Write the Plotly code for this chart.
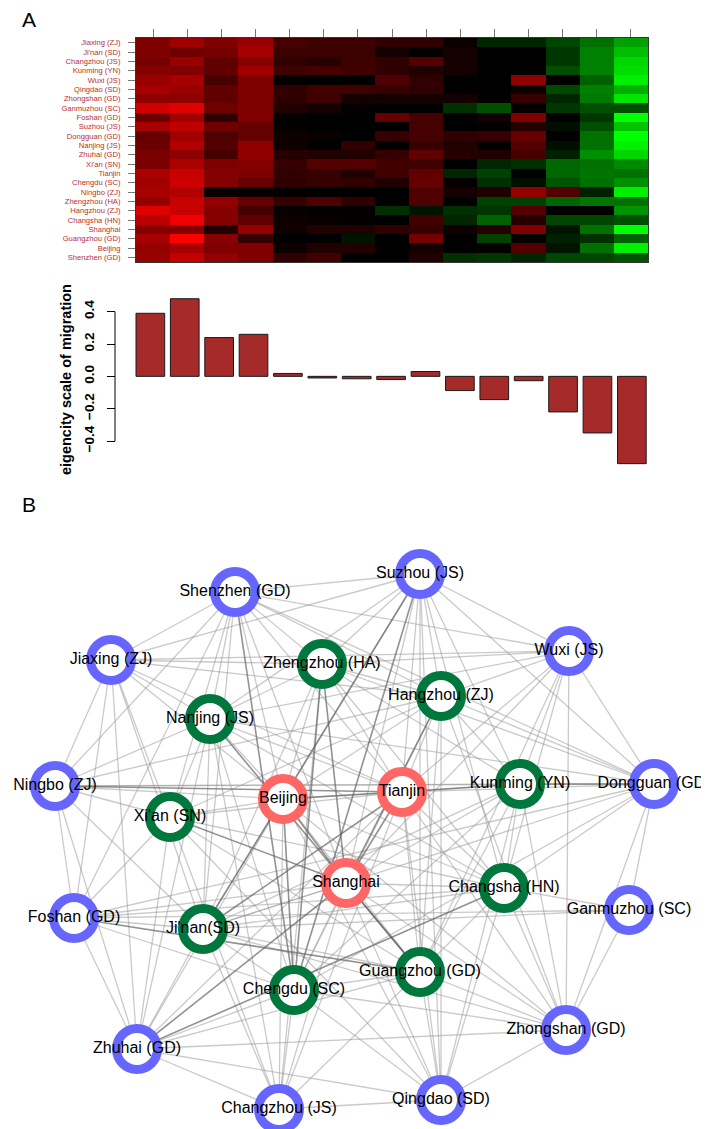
import plotly.graph_objects as go

# ---------------- Panel A data ----------------
city_rows = ["Jiaxing (ZJ)", "Ji'nan (SD)", "Changzhou (JS)", "Kunming (YN)", "Wuxi (JS)",
             "Qingdao (SD)", "Zhongshan (GD)", "Ganmuzhou (SC)", "Foshan (GD)", "Suzhou (JS)",
             "Dongguan (GD)", "Nanjing (JS)", "Zhuhai (GD)", "Xi'an (SN)", "Tianjin",
             "Chengdu (SC)", "Ningbo (ZJ)", "Zhengzhou (HA)", "Hangzhou (ZJ)", "Changsha (HN)",
             "Shanghai", "Guangzhou (GD)", "Beijing", "Shenzhen (GD)"]
components = list(range(1, 16))

heat_values = [
    [.50, .62, .50, .60, .27, .23, .23, .19, .19, .04, -.15, -.15, -.27, -.44, -.63],
    [.50, .44, .46, .65, .23, .23, .23, .08, .02, .08, 0, 0, -.21, -.50, -.75],
    [.46, .60, .38, .52, .19, .15, .23, .19, .33, .08, 0, 0, -.21, -.50, -.84],
    [.52, .50, .38, .63, .25, .27, .25, .19, .13, .08, 0, 0, -.31, -.50, -.87],
    [.60, .66, .28, .50, .02, 0, 0, .31, .19, 0, 0, .56, 0, -.38, -.94],
    [.65, .60, .38, .50, .19, .25, .25, .21, .19, 0, 0, .06, -.28, -.50, -.69],
    [.56, .56, .38, .50, .19, .25, .08, .08, .08, .08, .02, .21, -.15, -.48, -.90],
    [.82, .88, .44, .50, .13, .08, .02, 0, 0, -.19, -.31, .02, -.21, -.31, -.31],
    [.42, .63, .19, .50, .02, 0, 0, .40, .27, 0, .08, .50, 0, -.21, -1.0],
    [.66, .75, .44, .40, .02, 0, 0, 0, .27, 0, .02, .15, -.06, -.31, -.77],
    [.40, .63, .31, .40, .06, .03, 0, .21, .27, .19, .21, .40, 0, -.44, -1.0],
    [.42, .71, .33, .56, .06, 0, .19, 0, .21, .13, .02, .33, -.06, -.44, -.94],
    [.48, .56, .27, .56, .15, .13, .13, .21, .38, .15, .13, .27, -.13, -.56, -.84],
    [.48, .67, .50, .52, .21, .33, .33, .25, .25, 0, -.15, -.19, -.40, -.44, -.54],
    [.67, .78, .52, .50, .19, .21, .13, .25, .38, -.15, -.25, 0, -.40, -.46, -.44],
    [.63, .80, .52, .40, .19, .21, .19, .13, .40, .02, -.19, -.06, -.33, -.44, -.56],
    [.65, .69, .04, .04, .02, 0, 0, 0, .31, .08, .13, .58, .33, -.13, -.94],
    [.58, .78, .58, .40, .21, .31, .19, 0, .31, 0, -.25, -.25, -.40, -.46, -.44],
    [.88, .78, .52, .27, .03, .02, .02, -.19, -.08, -.19, -.21, .33, 0, 0, -.58],
    [.73, .94, .52, .38, .06, .03, .02, 0, .25, -.15, -.38, .15, -.27, -.27, -.31],
    [.52, .52, .13, .58, .06, .13, .13, .19, .21, .06, .15, .50, -.08, -.44, -1.0],
    [.65, 1.0, .52, .21, 0, 0, -.08, 0, .46, 0, -.25, 0, -.13, -.19, -.38],
    [.58, .65, .50, .50, .06, .13, .13, 0, .08, 0, .02, .33, -.08, -.44, -.94],
    [.60, .77, .58, .50, .19, .25, 0, 0, .13, -.19, -.21, -.15, -.27, -.27, -.33],
]

eigen_values = [0.39, 0.48, 0.24, 0.26, 0.018, -0.01, -0.015, -0.02, 0.03,
                -0.088, -0.144, -0.027, -0.22, -0.35, -0.54]
eigen_ticks = [-0.4, -0.2, 0.0, 0.2, 0.4]
eigen_ticktext = ["\u22120.4", "\u22120.2", "0.0", "0.2", "0.4"]

# ---------------- Panel B data ----------------
node_names = ["Suzhou (JS)", "Shenzhen (GD)", "Jiaxing (ZJ)", "Zhengzhou (HA)", "Wuxi (JS)",
              "Hangzhou (ZJ)", "Nanjing (JS)", "Ningbo (ZJ)", "Xi'an (SN)", "Beijing",
              "Tianjin", "Kunming (YN)", "Dongguan (GD)", "Shanghai", "Changsha (HN)",
              "Ganmuzhou (SC)", "Foshan (GD)", "Ji'nan(SD)", "Guangzhou (GD)", "Chengdu (SC)",
              "Zhuhai (GD)", "Zhongshan (GD)", "Changzhou (JS)", "Qingdao (SD)"]
node_codes = ["SZ", "SZN", "JX", "ZZ", "WX", "HZ", "NJ", "NB", "XA", "BJ", "TJ", "KM",
              "DG", "SH", "CS", "GMZ", "FS", "JN", "GZ", "CD", "ZH", "ZS", "CZ", "QD"]
node_group = ["peripheral", "peripheral", "peripheral", "middle", "peripheral", "middle",
              "middle", "peripheral", "middle", "core", "core", "middle", "peripheral",
              "core", "middle", "peripheral", "peripheral", "middle", "middle", "middle",
              "peripheral", "peripheral", "peripheral", "peripheral"]
layout_x = [412, 227, 103, 314, 561, 433, 202, 47, 162, 275, 394, 512, 646, 338, 496,
            621, 66, 195, 412, 286, 129, 558, 271, 433]
layout_y = [566, 584, 652, 656, 643, 688, 711, 778, 809, 791, 784, 776, 776, 875, 880,
            902, 910, 921, 964, 982, 1041, 1022, 1101, 1092]

adjacency = {
    "SZ": "SZN JX ZZ WX HZ NJ BJ TJ KM DG SH CS JN GZ CD QD",
    "SZN": "JX ZZ WX HZ NJ NB XA BJ TJ DG SH JN CD FS",
    "JX": "ZZ WX HZ NJ NB XA BJ TJ FS JN ZH",
    "ZZ": "WX HZ NJ BJ TJ KM DG SH CS JN CD CZ",
    "WX": "HZ TJ KM DG SH CS GZ ZS NJ",
    "HZ": "NB XA BJ TJ KM DG SH GZ CD ZS QD",
    "NJ": "NB XA BJ TJ DG CS JN GZ CD ZH CZ",
    "NB": "XA BJ TJ KM DG FS JN ZH",
    "XA": "BJ TJ SH CS FS GZ ZH CZ QD",
    "BJ": "TJ KM SH CS JN GZ CD ZH CZ QD ZS",
    "TJ": "KM DG SH CS JN GZ ZH CZ QD ZS",
    "KM": "DG SH CS GZ CD ZS QD JN",
    "DG": "CS GMZ ZS JN FS CD",
    "SH": "CS JN GZ CD FS ZH ZS CZ QD",
    "CS": "GMZ JN GZ ZS QD FS ZH",
    "GMZ": "FS JN ZS",
    "FS": "JN ZH GZ CD",
    "JN": "GZ CD ZH ZS CZ",
    "GZ": "CD ZH ZS CZ QD",
    "CD": "ZH ZS CZ QD",
    "ZH": "ZS CZ QD",
    "ZS": "QD",
    "CZ": "QD",
}
strong_edges = ["SZ-JN", "TJ-KM", "KM-DG", "NB-TJ", "BJ-TJ", "ZZ-SH", "BJ-SH", "TJ-SH",
                "SH-GZ", "SZN-CD", "ZZ-CD", "XA-SH", "NJ-GZ", "HZ-SH", "SH-ZH", "CS-ZH",
                "TJ-JN", "SZ-CD", "BJ-CD", "FS-GZ"]

# ---------------- figure ----------------
W, H = 709, 1129
fig = go.Figure()

fig.add_trace(go.Heatmap(
    z=heat_values, x=components, y=city_rows, xaxis="x", yaxis="y",
    colorscale=[[0, "#00FF00"], [0.5, "#000000"], [1, "#FF0000"]],
    zmin=-1, zmax=1, showscale=False, xgap=0, ygap=0))

fig.add_trace(go.Bar(
    x=components, y=eigen_values, xaxis="x2", yaxis="y2", width=0.834,
    marker=dict(color="#A52A2A", line=dict(color="#1a1a1a", width=1))))

idx = {c: i for i, c in enumerate(node_codes)}
strong_set = set()
for e in strong_edges:
    a, b = e.split("-")
    strong_set.add(frozenset((a, b)))
ex_n, ey_n, ex_s, ey_s = [], [], [], []
for a, nbrs in adjacency.items():
    for b in nbrs.split():
        i, j = idx[a], idx[b]
        if frozenset((a, b)) in strong_set:
            ex_s += [layout_x[i], layout_x[j], None]
            ey_s += [layout_y[i], layout_y[j], None]
        else:
            ex_n += [layout_x[i], layout_x[j], None]
            ey_n += [layout_y[i], layout_y[j], None]

fig.add_trace(go.Scatter(x=ex_n, y=ey_n, mode="lines", xaxis="x3", yaxis="y3",
                         line=dict(color="rgba(150,150,150,0.5)", width=1.3),
                         hoverinfo="skip"))
fig.add_trace(go.Scatter(x=ex_s, y=ey_s, mode="lines", xaxis="x3", yaxis="y3",
                         line=dict(color="rgba(100,100,100,0.7)", width=1.6),
                         hoverinfo="skip"))

group_color = {"peripheral": "#6666FF", "middle": "#00773C", "core": "#FF6666"}
fig.add_trace(go.Scatter(
    x=layout_x, y=layout_y, mode="markers+text", xaxis="x3", yaxis="y3",
    text=node_names, textposition="middle center",
    textfont=dict(family="Liberation Sans, Arial", size=16, color="black"),
    marker=dict(symbol="circle", size=41, color="white",
                line=dict(color=[group_color[g] for g in node_group], width=9)),
    cliponaxis=False))

fig.update_layout(
    width=W, height=H, margin=dict(l=0, r=0, t=0, b=0),
    paper_bgcolor="white", plot_bgcolor="white", showlegend=False,
    font=dict(family="Liberation Sans, Arial"),
    xaxis=dict(domain=[128 / W, 640 / W], range=[0.5, 15.5], side="top",
               tickvals=components, showticklabels=False, ticks="outside",
               ticklen=8, tickcolor="#777", showline=True, mirror=True,
               linecolor="#333", linewidth=1, showgrid=False, zeroline=False,
               anchor="y"),
    yaxis=dict(domain=[1 - 254 / H, 1 - 30 / H], autorange="reversed",
               ticks="outside", ticklen=7, tickcolor="#777",
               tickfont=dict(size=7.6, color="#B8302C"), ticklabelstandoff=6,
               showline=True, mirror=True, linecolor="#333", linewidth=1,
               showgrid=False, zeroline=False, anchor="x"),
    xaxis2=dict(domain=[125.15 / W, 641.05 / W], range=[0.5, 15.5], visible=False,
                anchor="y2"),
    yaxis2=dict(domain=[1 - 458.9 / H, 1 - 287.5 / H], range=[-0.56, 0.5],
                anchor="free", position=107 / W, tickvals=eigen_ticks,
                ticktext=eigen_ticktext, tickangle=-90, ticks="outside", ticklen=8,
                tickcolor="black", ticklabelstandoff=8,
                tickfont=dict(size=13.5, color="black", weight="bold"),
                showline=False, showgrid=False, zeroline=False),
    xaxis3=dict(domain=[0, 1], range=[0, W], visible=False, anchor="y3"),
    yaxis3=dict(domain=[0, 1 - 540 / H], range=[H, 540], visible=False, anchor="x3"),
    shapes=[dict(type="line", xref="paper", yref="y2", x0=107 / W, x1=107 / W,
                 y0=eigen_ticks[0], y1=eigen_ticks[-1],
                 line=dict(color="black", width=1))],
    annotations=[
        dict(text="A", x=21 / W, y=1 - 12 / H, xref="paper", yref="paper",
             xanchor="center", yanchor="middle",
             showarrow=False, font=dict(size=21, color="black")),
        dict(text="B", x=21 / W, y=1 - 497 / H, xref="paper", yref="paper",
             xanchor="center", yanchor="middle",
             showarrow=False, font=dict(size=21, color="black")),
        dict(text="eigencity scale of migration", x=58 / W, y=1 - 372 / H,
             xref="paper", yref="paper", xanchor="center", yanchor="middle",
             showarrow=False, textangle=-90,
             font=dict(size=14.5, color="black", weight="bold")),
    ],
)

fig.write_html("out.html")
